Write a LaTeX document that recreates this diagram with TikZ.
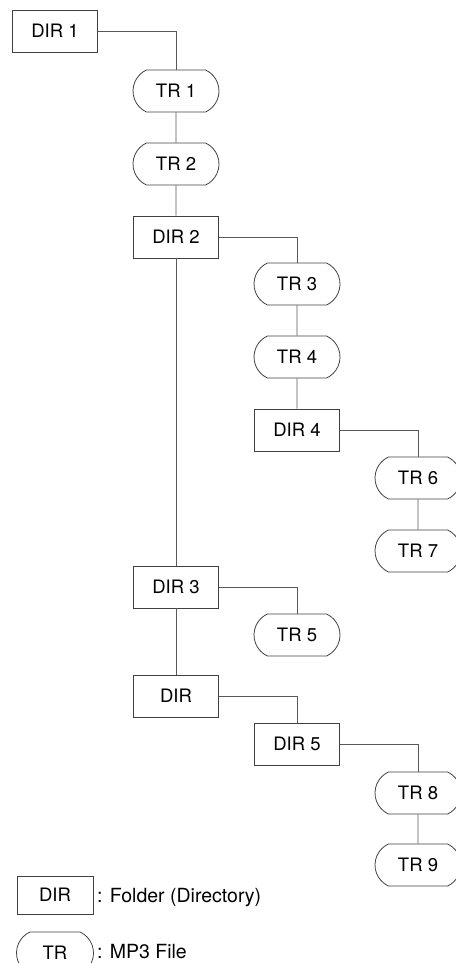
\documentclass[tikz,border=0pt]{standalone}
\usepackage{fontspec}
\setmainfont{TeX Gyre Heros}
\usetikzlibrary{shapes.misc}
\tikzset{
  dirbox/.style={draw=black!75, line width=0.8pt, minimum width=85pt, minimum height=42pt, inner sep=0pt},
  trbox/.style={draw=black!75, line width=0.8pt, rounded rectangle, rounded rectangle arc length=130, minimum width=86pt, minimum height=42pt, inner sep=0pt},
  link/.style={draw=black!65, line width=0.8pt},
  note/.style={anchor=west, inner sep=0pt, font=\fontsize{19.5}{22}\selectfont}
}
\begin{document}
\begin{tikzpicture}[x=1pt, y=-1pt, font=\fontsize{18.5}{21}\selectfont]
                        \useasboundingbox (0,0) rectangle (455,963);

                        \node[dirbox] (dir1) at (55,31) {DIR 1};
                        \node[trbox] (tr1) at (176,91) {TR 1};
                        \node[trbox] (tr2) at (176,164) {TR 2};
                        \node[dirbox] (dir2) at (176,237) {DIR 2};
                        \node[trbox] (tr3) at (297,284) {TR 3};
                        \node[trbox] (tr4) at (297,357) {TR 4};
                        \node[dirbox] (dir4) at (297,430) {DIR 4};
                        \node[trbox] (tr6) at (418,478) {TR 6};
                        \node[trbox] (tr7) at (418,551) {TR 7};
                        \node[dirbox] (dir3) at (176,587) {DIR 3};
                        \node[trbox] (tr5) at (297,635) {TR 5};
                        \node[dirbox] (dirx) at (176,696) {DIR};
                        \node[dirbox] (dir5) at (297,744) {DIR 5};
                        \node[trbox] (tr8) at (418,793) {TR 8};
                        \node[trbox] (tr9) at (418,865) {TR 9};

                        \draw[link] (dir1.east) -| (tr1.north);
                        \draw[link] (tr1) -- (tr2);
                        \draw[link] (tr2) -- (dir2);
                        \draw[link] (dir2.east) -| (tr3.north);
                        \draw[link] (tr3) -- (tr4);
                        \draw[link] (tr4) -- (dir4);
                        \draw[link] (dir4.east) -| (tr6.north);
                        \draw[link] (tr6) -- (tr7);
                        \draw[link] (dir2) -- (dir3);
                        \draw[link] (dir3.east) -| (tr5.north);
                        \draw[link] (dir3) -- (dirx);
                        \draw[link] (dirx.east) -| (dir5.north);
                        \draw[link] (dir5.east) -| (tr8.north);
                        \draw[link] (tr8) -- (tr9);

                        % legend
                        \node[dirbox, minimum width=76pt, minimum height=38pt] (keydir) at (55,895) {DIR};
                        \node[note] (keydirtext) at (97,898) {: Folder (Directory)};
                        \node[trbox, minimum width=77pt] (keytr) at (55,953) {TR};
                        \node[note] (keytrtext) at (97,952) {: MP3 File};
                    \end{tikzpicture}
\end{document}
